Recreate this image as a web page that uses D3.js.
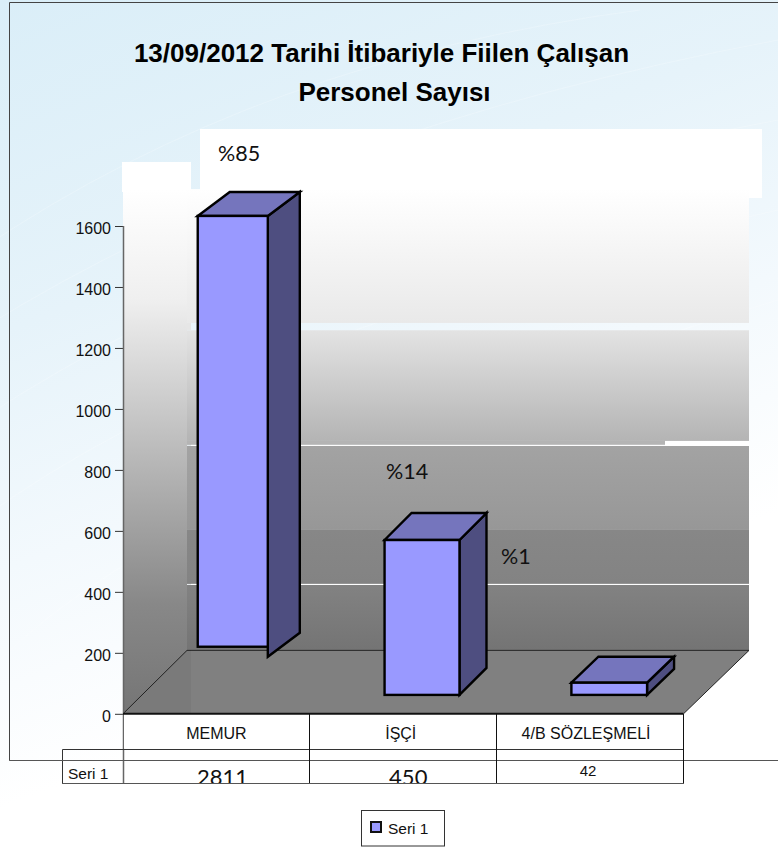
<!DOCTYPE html>
<html><head><meta charset="utf-8">
<script src="https://cdnjs.cloudflare.com/ajax/libs/d3/7.8.5/d3.min.js"></script>
<style>html,body{margin:0;padding:0;background:#fff}svg{display:block}text{font-family:"Liberation Sans",Arial,sans-serif;fill:#111}</style>
</head><body><div id="c"></div>
<script>
const categories = ["MEMUR", "İŞÇİ", "4/B SÖZLEŞMELİ"];
const seriesName = "Seri 1";
const tableValues = ["2811", "450", "42"];
const percentLabels = ["%85", "%14", "%1"];
const barTops = [1633, 570, 102];
const barBases = [220, 62, 62];
const sideBases = [187, 62, 62];
const yTicks = [0, 200, 400, 600, 800, 1000, 1200, 1400, 1600];
const titleLines = ["13/09/2012 Tarihi İtibariyle Fiilen Çalışan", "Personel Sayısı"];

const W = 778, H = 848;
const svg = d3.select("#c").append("svg").attr("width", W).attr("height", H);
const defs = svg.append("defs");
function grad(id, stops, x2, y2) {
  const g = defs.append("linearGradient").attr("id", id).attr("x1", 0).attr("y1", 0).attr("x2", x2 || 0).attr("y2", y2 === undefined ? 1 : y2);
  stops.forEach(s => g.append("stop").attr("offset", s[0]).attr("stop-color", s[1]));
}
grad("bg", [[0, "#daeef8"], [0.35, "#e6f3fa"], [0.6, "#f3f9fd"], [0.85, "#ffffff"], [1, "#ffffff"]], 0.35, 1);
grad("wallL", [[0, "#ffffff"], [0.05, "#ffffff"], [0.25, "#efefef"], [0.58, "#b0b0b0"], [0.8, "#888888"], [1, "#757575"]]);
grad("b1", [[0, "#ffffff"], [1, "#e9e9e9"]]);
grad("b2", [[0, "#e3e3e3"], [1, "#b4b4b4"]]);
grad("b3", [[0, "#a3a3a3"], [1, "#979797"]]);
grad("b4", [[0, "#878787"], [1, "#838383"]]);
grad("b5", [[0, "#828282"], [1, "#747474"]]);

const y = d3.scaleLinear().domain([0, 1600]).range([713.8, 226]);
const x = d3.scaleBand().domain(categories).range([123, 683.5]);
const step = x.step();

// page background with faint sweeping lines
svg.append("rect").attr("width", W).attr("height", H).attr("fill", "url(#bg)");
const sweep = [[-20,250,260,60,640,10],[-20,330,300,130,778,40],[-20,420,300,210,778,120],[-20,520,240,330,778,210],[0,660,180,480,778,300],[60,800,260,560,778,380]];
svg.selectAll("path.sweep").data(sweep).join("path").attr("class", "sweep")
  .attr("d", d => `M${d[0]},${d[1]}Q${d[2]},${d[3]} ${d[4]},${d[5]}`)
  .attr("fill", "none").attr("stroke", "#fff").attr("stroke-opacity", 0.22).attr("stroke-width", 1);

// chart frame
svg.append("path").attr("d", `M${W},2.5H9.5V760.5H${W}`).attr("fill", "none").attr("stroke", "#444").attr("stroke-width", 1);

// white patches behind the plot
svg.append("rect").attr("x", 200).attr("y", 129).attr("width", 562).attr("height", 69).attr("fill", "#fff");
svg.append("rect").attr("x", 122).attr("y", 162).attr("width", 69).attr("height", 30).attr("fill", "#fff");
svg.append("rect").attr("x", 665).attr("y", 438).attr("width", 84).attr("height", 10).attr("fill", "#fff");

// back wall bands (edges are read on the value axis)
const bands = [
  [1721, 1282, "url(#b1)", 187], [1258, 895, "url(#b2)", 187], [895, 882, "#b4b4b4", 187],
  [879, 603, "url(#b3)", 187], [603, 426, "url(#b4)", 187], [423, 208, "url(#b5)", 187]
];
svg.selectAll("rect.band").data(bands).join("rect").attr("class", "band")
  .attr("x", d => d[3]).attr("width", d => 749 - d[3])
  .attr("y", d => y(d[0])).attr("height", d => y(d[1]) - y(d[0])).attr("fill", d => d[2]);
svg.append("rect").attr("x", 187).attr("y", y(1282)).attr("width", 4).attr("height", 7).attr("fill", "#e6e6e6");
svg.append("rect").attr("x", 665).attr("y", y(895)).attr("width", 84).attr("height", 5).attr("fill", "#fff");
svg.append("rect").attr("x", 191).attr("y", y(882)).attr("width", 474).attr("height", 1).attr("fill", "#fff");
svg.append("rect").attr("x", 665).attr("y", y(882)).attr("width", 84).attr("height", 1).attr("fill", "#fff");
svg.append("rect").attr("x", 191).attr("y", y(426)).attr("width", 558).attr("height", 1).attr("fill", "#fff");

// left wall
svg.append("rect").attr("x", 123).attr("y", 162).attr("width", 64).attr("height", 552).attr("fill", "url(#wallL)");

// floor
const backY = y(208), frontY = y(0);
svg.append("path").attr("d", `M123,${frontY}L187,${backY}H749L683.5,${frontY}Z`).attr("fill", "#808080");
svg.append("path").attr("d", `M123,${frontY}L187,${backY}H191V${frontY}Z`).attr("fill", "#7a7a7a");
svg.append("rect").attr("x", 123).attr("y", frontY).attr("width", 68).attr("height", 3).attr("fill", "#777");
svg.append("path").attr("d", `M123,${frontY}L187,${backY}H749L683.5,${frontY}`).attr("fill", "none").attr("stroke", "#222").attr("stroke-width", 1);

// 3D bars
const frontFrac = 0.4, widthFrac = [0.375, 0.401, 0.405], depthX = [32, 27, 27], depthY = [24, 27, 26];
const rows = categories.map((c, i) => ({ i, x0: x(c) + step * frontFrac, w: step * widthFrac[i], top: y(barTops[i]), base: y(barBases[i]), side: y(sideBases[i]), dx: depthX[i], dy: depthY[i] }));
const bars = svg.selectAll("g.bar").data(rows).join("g").attr("class", "bar")
  .attr("stroke", "#000").attr("stroke-width", 2.4).attr("stroke-linejoin", "miter");
bars.append("path").attr("fill", "#4e4e80")
  .attr("d", d => `M${d.x0 + d.w},${d.top}L${d.x0 + d.w + d.dx},${d.top - d.dy}V${d.side - d.dy}L${d.x0 + d.w},${d.side}Z`);
bars.append("path").attr("fill", "#7575bd")
  .attr("d", d => `M${d.x0},${d.top}L${d.x0 + d.dx},${d.top - d.dy}H${d.x0 + d.w + d.dx}L${d.x0 + d.w},${d.top}Z`);
bars.append("rect").attr("fill", "#9999ff")
  .attr("x", d => d.x0).attr("y", d => d.top).attr("width", d => d.w).attr("height", d => d.base - d.top);

// axis
const axis = d3.axisLeft(y).tickValues(yTicks).tickSize(8).tickPadding(4).tickFormat(d3.format("d"));
const ag = svg.append("g").attr("transform", "translate(123,0)").call(axis);
ag.select(".domain").remove();
ag.selectAll("line").attr("stroke", "#333");
ag.selectAll("text").style("font-size", "16px").attr("dy", "0.45em");
svg.append("line").attr("x1", 123.5).attr("x2", 123.5).attr("y1", y(1600)).attr("y2", 783).attr("stroke", "#666").attr("stroke-width", 1.5);

// data table
svg.append("rect").attr("x", 124).attr("y", frontY).attr("width", 559).attr("height", 35).attr("fill", "#fff");
svg.append("line").attr("x1", 123).attr("x2", 683.5).attr("y1", frontY).attr("y2", frontY).attr("stroke", "#111").attr("stroke-width", 2);
svg.append("path").attr("d", "M62.5,783V749.5H683.5").attr("fill", "none").attr("stroke", "#333");
svg.append("path").attr("d", `M9.5,760.5H${W}`).attr("fill", "none").attr("stroke", "#555");
svg.selectAll("line.cell").data(d3.range(1, 4)).join("line").attr("class", "cell")
  .attr("x1", i => Math.floor(x.range()[0] + step * i) + 0.5).attr("x2", i => Math.floor(x.range()[0] + step * i) + 0.5)
  .attr("y1", frontY).attr("y2", 783).attr("stroke", "#111");
const catShift = [0, -2.5, -4];
svg.selectAll("text.cat").data(categories).join("text").attr("class", "cat")
  .attr("x", (d, i) => x(d) + step / 2 + catShift[i]).attr("y", 738.5).attr("text-anchor", "middle").style("font-size", "16px").text(d => d);
svg.append("text").attr("x", 68).attr("y", 779).style("font-size", "15.5px").text(seriesName);
defs.append("clipPath").attr("id", "tb").append("rect").attr("x", 0).attr("y", 750).attr("width", W).attr("height", 34);
const tableFont = [["Lato", 22, 784.5, 6], ["Lato", 22, 784.5, 5], ["Liberation Sans", 15, 776, -2]];
svg.append("g").attr("clip-path", "url(#tb)").selectAll("text").data(tableValues).join("text")
  .attr("x", (d, i) => x(categories[i]) + step / 2 + tableFont[i][3]).attr("y", (d, i) => tableFont[i][2]).attr("text-anchor", "middle")
  .style("font-family", (d, i) => tableFont[i][0]).style("font-size", (d, i) => tableFont[i][1] + "px").text(d => d);
svg.append("line").attr("x1", 62).attr("x2", 684).attr("y1", 783.5).attr("y2", 783.5).attr("stroke", "#555");

// percent labels
const pctPos = [[218, 161], [386, 479], [501, 564]];
svg.selectAll("text.pct").data(percentLabels).join("text").attr("class", "pct")
  .attr("x", (d, i) => pctPos[i][0]).attr("y", (d, i) => pctPos[i][1])
  .style("font-family", "Lato").style("font-size", "21.5px").text(d => d);

// title
const titleCentre = [381.5, 394.5];
svg.selectAll("text.title").data(titleLines).join("text").attr("class", "title")
  .attr("x", (d, i) => titleCentre[i]).attr("y", (d, i) => 62 + i * 38.5).attr("text-anchor", "middle")
  .style("font-size", "26px").style("font-weight", "bold").style("fill", "#000").text(d => d);

// legend
svg.append("rect").attr("x", 361.5).attr("y", 810.5).attr("width", 83).attr("height", 35.5).attr("fill", "#fff").attr("stroke", "#333");
svg.append("rect").attr("x", 371).attr("y", 822).attr("width", 10).attr("height", 10).attr("fill", "#9999ff").attr("stroke", "#111").attr("stroke-width", 2);
svg.append("text").attr("x", 388).attr("y", 834).style("font-size", "15.5px").text(seriesName);
</script></body></html>
